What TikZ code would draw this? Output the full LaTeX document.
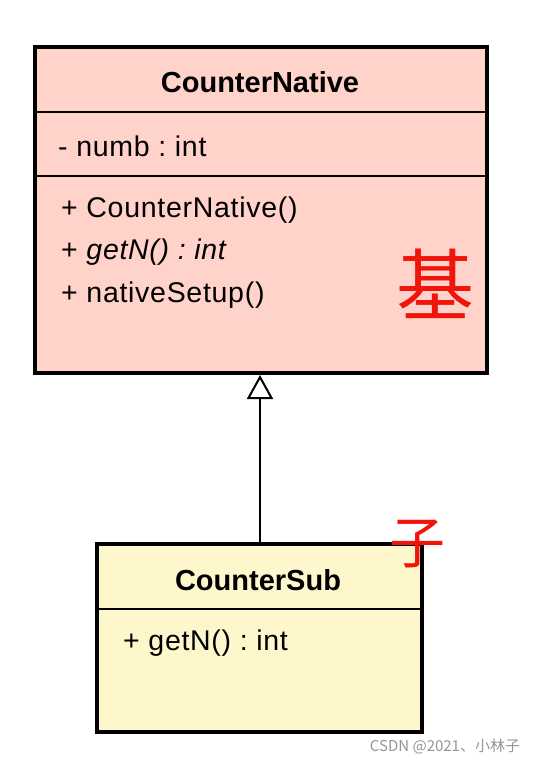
\documentclass[tikz,border=0pt]{standalone}
\usepackage{fontspec}
\setmainfont{Liberation Sans}
\newfontfamily\cjkfont{Noto Sans CJK SC}
\newfontfamily\memberfont[LetterSpace=2.5]{Liberation Sans}
\usetikzlibrary{arrows.meta}
\definecolor{pinkfill}{RGB}{255,210,202}
\definecolor{yellowfill}{RGB}{255,247,204}
\definecolor{handred}{RGB}{240,20,10}
\definecolor{wmgray}{RGB}{150,150,150}
\tikzset{
  classbox/.style={draw=black, line width=4pt, rectangle, inner sep=0pt},
  divider/.style={line width=2.5pt},
  classname/.style={font=\fontsize{29}{34}\selectfont\bfseries, inner sep=0pt},
  member/.style={font=\memberfont\fontsize{28.5}{34}\selectfont\frenchspacing, anchor=west, inner sep=0pt},
  inherit/.style={line width=2pt, -{Triangle[width=26pt,length=24pt,fill=white,line width=2pt]}},
  hand/.style={text=handred, font=\cjkfont, inner sep=0pt},
}
\begin{document}
\begin{tikzpicture}[x=1pt,y=-1pt]
\useasboundingbox (0,0) rectangle (536,762);
\fill[white] (0,0) rectangle (536,762);
% CounterNative
\node[classbox, fill=pinkfill, minimum width=452pt, minimum height=326pt] (cn) at (261,210) {};
\draw[divider] (cn.west |- 0,112) -- (cn.east |- 0,112);
\draw[divider] (cn.west |- 0,176) -- (cn.east |- 0,176);
\node[classname] (cnname) at (260,82) {CounterNative};
\node[member] (cnattr) at (58,146) {- numb : int};
\node[member] (cnop1) at (61,210) {+ CounterNative()};
\node[member] (cnop2) at (61,252) {+ \itshape getN() : int};
\node[member] (cnop3) at (61,295) {+ nativeSetup()};
% CounterSub
\node[classbox, fill=yellowfill, minimum width=325pt, minimum height=188pt] (cs) at (259.5,638) {};
\draw[divider] (cs.west |- 0,609) -- (cs.east |- 0,609);
\node[classname] (csname) at (258,580) {CounterSub};
\node[member] (csop1) at (123,643) {+ getN() : int};
% inheritance
\draw[inherit] (cs.north -| 260,0) -- (cn.south -| 260,0);
% handwritten notes
\node[hand, font=\cjkfont\fontsize{78}{80}\selectfont] (base) at (435,284) {基};
\node[hand, font=\cjkfont\fontsize{56}{60}\selectfont] (sub) at (417,544) {子};
% watermark
\node[text=wmgray, font=\cjkfont\fontsize{15}{18}\selectfont, inner sep=0pt] (wm) at (445,746) {CSDN @2021、小林子};
\end{tikzpicture}
\end{document}
